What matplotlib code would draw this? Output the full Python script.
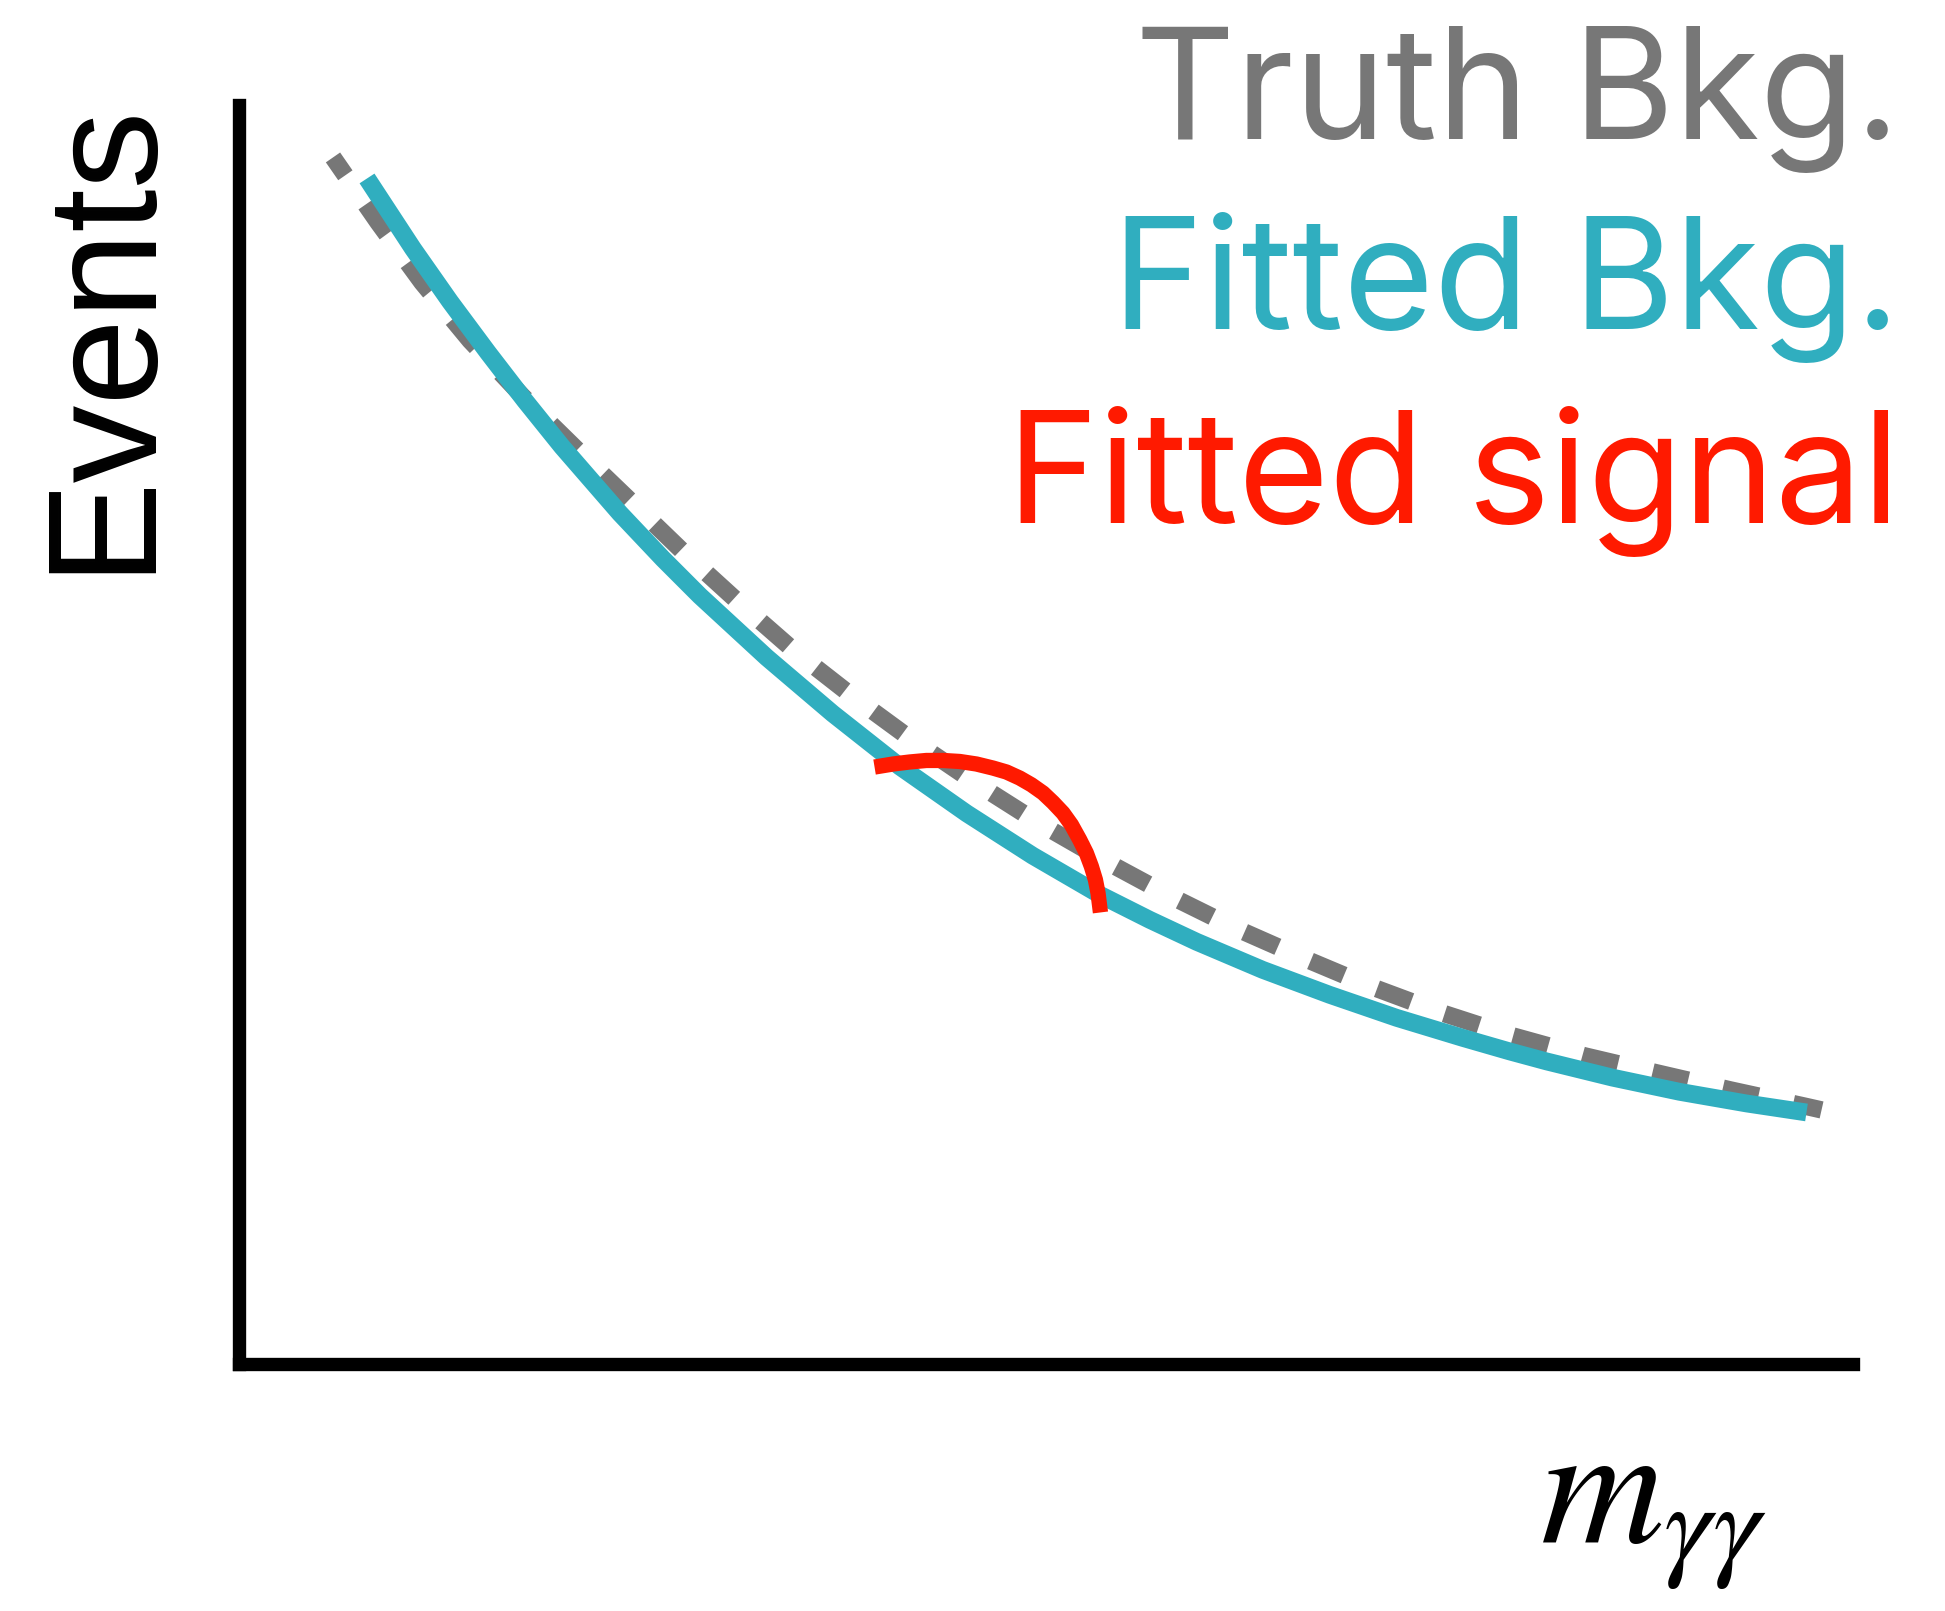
import matplotlib
matplotlib.use("Agg")
import matplotlib.pyplot as plt

# Schematic diphoton mass spectrum (arbitrary units)
truth_x = [5.80, 8.58, 11.29, 14.25, 17.52, 20.73, 24.00, 27.33, 30.72, 34.18,
           37.82, 41.52, 45.34, 49.23, 53.42, 57.31, 61.44, 65.64, 69.90, 74.21,
           78.59, 83.04, 87.48, 92.04, 96.55, 97.66]
truth_y = [95.26, 90.13, 85.39, 80.81, 76.38, 72.35, 68.33, 64.22, 60.27, 56.40,
           52.76, 49.29, 45.97, 42.81, 39.73, 37.05, 34.44, 32.07, 29.78, 27.73,
           25.91, 24.33, 22.99, 21.64, 20.38, 20.06]

fit_x = [7.90, 10.73, 13.02, 15.36, 17.64, 19.93, 23.50, 26.16, 28.44, 32.57,
         36.64, 40.78, 44.91, 48.98, 53.12, 56.20, 59.10, 63.17, 67.30, 71.44,
         75.51, 78.41, 80.69, 84.76, 88.90, 93.03, 96.73]
fit_y = [93.60, 88.07, 83.89, 79.86, 76.07, 72.43, 67.17, 63.57, 60.65, 55.78,
         51.35, 47.17, 43.47, 40.13, 37.05, 35.07, 33.33, 31.12, 29.15, 27.33,
         25.75, 24.68, 23.89, 22.61, 21.49, 20.57, 19.86]

sig_x = [39.22, 40.36, 41.39, 42.42, 43.45, 44.48, 45.51, 46.53, 47.36, 48.18,
         48.90, 49.62, 50.23, 50.85, 51.37, 51.88, 52.29, 52.60, 52.85, 53.01,
         53.16]
sig_y = [47.13, 47.37, 47.53, 47.65, 47.65, 47.57, 47.37, 47.05, 46.74, 46.26,
         45.73, 45.08, 44.34, 43.50, 42.57, 41.39, 40.34, 39.28, 38.23, 37.18,
         35.65]

labels = ["Truth Bkg.", "Fitted Bkg.", "Fitted signal"]

GRAY = "#777777"
TEAL = "#30AEBF"
RED = "#FF1A00"

W, H = 1945, 1611
fig = plt.figure(figsize=(W / 100, H / 100), dpi=100)
fig.patch.set_facecolor("white")

ax = fig.add_axes([239 / W, (H - 1364) / H, (1853 - 239) / W, (1364 - 105) / H])
ax.set_xlim(0, 99.6)
ax.set_ylim(0, 99.4)
ax.set_xticks([])
ax.set_yticks([])
for side in ("top", "right"):
    ax.spines[side].set_visible(False)
for side in ("left", "bottom"):
    ax.spines[side].set_linewidth(9.6)
    ax.spines[side].set_capstyle("projecting")
    ax.spines[side].set_color("black")

ax.plot(truth_x, truth_y, color=GRAY, lw=12.5, linestyle=(0.85, (2.1, 2.05)),
        solid_capstyle="butt", dash_capstyle="butt", dash_joinstyle="round",
        clip_on=False, zorder=2)
ax.plot(fit_x, fit_y, color=TEAL, lw=12.8, solid_capstyle="butt",
        solid_joinstyle="round", clip_on=False, zorder=3)
ax.plot(sig_x, sig_y, color=RED, lw=11, solid_capstyle="butt",
        solid_joinstyle="round", clip_on=False, zorder=4)

# Legend-like labels, right aligned in the top-right corner
legend_font = dict(family="Inter", fontsize=112, ha="right", va="baseline")
for txt, col, base in zip(labels, [GRAY, TEAL, RED], [139, 329, 523]):
    fig.text(1900 / W, 1 - base / H, txt, color=col, **legend_font)

fig.text(144 / W, 1 - 335 / H, "Events", family="Liberation Sans", fontsize=112,
         rotation=90, rotation_mode="anchor", ha="center", va="baseline",
         color="black")

plt.rcParams["mathtext.fontset"] = "stix"
fig.text(1540 / W, 1 - 1543 / H, r"$m_{\gamma\gamma}$", fontsize=123,
         ha="left", va="baseline", color="black")

fig.savefig("out.png", dpi=100, facecolor="white")
